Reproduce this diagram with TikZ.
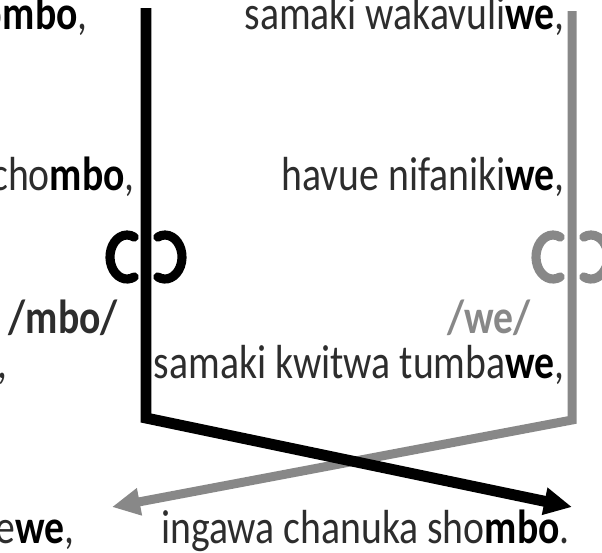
\documentclass[tikz,border=0pt]{standalone}
\usepackage{fontspec}
\setmainfont{Carlito}[FakeStretch=0.83]
\usepackage{xcolor}
\usepackage{tikz}
\usetikzlibrary{arrows.meta, positioning}

\definecolor{inkgrey}{RGB}{45,45,45}
\definecolor{rhymegrey}{RGB}{136,136,136}
\newcommand{\rhyme}[1]{\textbf{\color{black}#1}}

\begin{document}
\begin{tikzpicture}[
  x=0.025cm, y=-0.025cm,   % one unit = one pixel of the page
  >=Latex,
  verse/.style={
    font=\fontsize{34}{40}\selectfont,
    text=inkgrey, inner sep=0pt,
    anchor=base east
  },
  tag/.style={verse, font=\fontsize{34}{40}\selectfont\bfseries},
  blackline/.style={draw=black, line width=7.8pt, line join=miter},
  greyline/.style={draw=rhymegrey, line width=6.4pt, line join=miter},
  rhymearrow/.style={-{Triangle[length=0.7cm, width=0.65cm]}},
  hook/.style={line width=6.5pt, line cap=round},
]
\useasboundingbox (0,0) rectangle (602,552);

% --- Verse lines ---
\node[verse] (L1) at (88,29) {o\rhyme{mbo},};
\node[verse] (R1) at (565,29) {samaki wakavuli\rhyme{we},};
\node[verse] (L2) at (135,190) {cho\rhyme{mbo},};
\node[verse] (R2) at (565,190) {havue nifaniki\rhyme{we},};
\node[tag] (MBO) at (118,333) {/mbo/};
\node[tag, text=rhymegrey] (WE) at (531,333) {/we/};
\node[verse] (L3) at (8,378) {,};
\node[verse] (R3) at (565,378) {samaki kwitwa tumba\rhyme{we},};
\node[verse] (L4) at (75,543) {e\rhyme{we},};
\node[verse] (R4) at (570,543) {ingawa chanuka sho\rhyme{mbo}.};

% --- Rhyme marks ---
\draw[hook, black] (127,257) ++(65:17 and 22) arc[start angle=65, end angle=295, x radius=17, y radius=22];
\draw[hook, black] (165,257) ++(115:17 and 22) arc[start angle=115, end angle=-115, x radius=17, y radius=22];
\draw[hook, rhymegrey] (553,257) ++(65:17 and 22) arc[start angle=65, end angle=295, x radius=17, y radius=22];
\draw[hook, rhymegrey] (591,257) ++(115:17 and 22) arc[start angle=115, end angle=-115, x radius=17, y radius=22];

% --- Crossing lines ---
\coordinate (WEtop) at (572,11);
\coordinate (WEcorner) at (572,420);
\coordinate (WEend) at (112,507);
\coordinate (MBOtop) at (146,8);
\coordinate (MBOcorner) at (146,418);
\coordinate (MBOend) at (572,507);

\draw[greyline, rhymearrow] (WEtop) -- (WEcorner) -- (WEend);
\draw[blackline, rhymearrow] (MBOtop) -- (MBOcorner) -- (MBOend);

\end{tikzpicture}
\end{document}
